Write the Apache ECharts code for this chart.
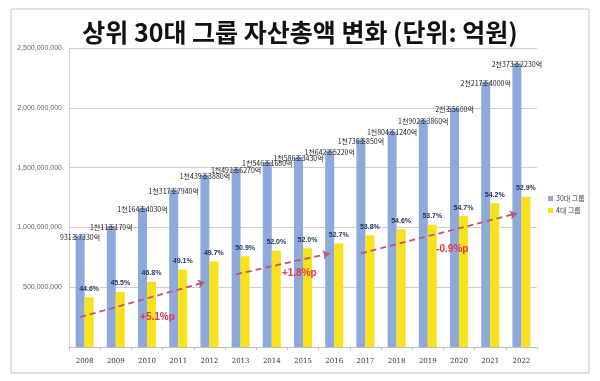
<!DOCTYPE html>
<html>
<head>
<meta charset="utf-8">
<script src="https://cdn.jsdelivr.net/npm/echarts@6/dist/echarts.min.js"></script>
<style>
html,body{margin:0;padding:0;background:#fff;}
#c{width:600px;height:381px;}
</style>
</head>
<body>
<div id="c"></div>
<script>
const years = ['2008','2009','2010','2011','2012','2013','2014','2015','2016','2017','2018','2019','2020','2021','2022'];
// 30대 그룹 자산총액 (백만원 단위 축)
const group30 = [931733000,1011017000,1164403000,1317794000,1439388000,1491627000,1546168000,1586343000,1642522000,1736085000,1804124000,1902386000,2000560000,2217400000,2373223000];
const group30Labels = ['931조7330억','1천11조170억','1천164조4030억','1천317조7940억','1천439조3880억','1천491조6270억','1천546조1680억','1천586조3430억','1천642조5220억','1천736조850억','1천804조1240억','1천902조3860억','2천조5600억','2천217조4000억','2천373조2230억'];
// 4대 그룹 자산총액 (읽은 값)
const group4 = [415500000,460000000,545000000,647000000,715400000,759200000,804000000,824900000,865600000,934000000,985000000,1021600000,1094300000,1201800000,1255400000];
const shareLabels = ['44.6%','45.5%','46.8%','49.1%','49.7%','50.9%','52.0%','52.0%','52.7%','53.8%','54.6%','53.7%','54.7%','54.2%','52.9%'];
const yTicks = [0,500000000,1000000000,1500000000,2000000000,2500000000];
const seriesNames = ['30대 그룹','4대 그룹'];
const trendArrows = [
  [['2008',250000000],['2012',542000000]],
  [['2013',608000000],['2016',783000000]],
  [['2017',783000000],['2022',1117000000]]
];
const trendTexts = [
  {text:'+5.1%p', year:'2010', value:250000000, dx:6},
  {text:'+1.8%p', year:'2014', value:617000000, dx:23},
  {text:'-0.9%p', year:'2019', value:817000000, dx:20}
];

const KR = '"Noto Sans CJK KR", "Noto Sans", sans-serif';
const chart = echarts.init(document.getElementById('c'), null, {renderer:'canvas'});
const fmt = v => v === 0 ? '' : v.toLocaleString('en-US');

chart.setOption({
  animation:false,
  backgroundColor:'#fff',
  title:{
    text:'상위 30대 그룹 자산총액 변화 (단위: 억원)',
    left:'center', top:15,
    textStyle:{fontFamily:KR, fontSize:25, fontWeight:'bold', color:'#111'}
  },
  graphic:[{
    type:'rect', shape:{x:11,y:9,width:578,height:364,r:2},
    style:{fill:'none', stroke:'#d6d6d6', lineWidth:1.5}, z:-1
  }],
  legend:{
    orient:'vertical', left:543, top:190, itemWidth:5, itemHeight:5, itemGap:5,
    icon:'rect',
    textStyle:{fontFamily:KR, fontSize:7, color:'#444', padding:[0,0,0,-2]},
    data:seriesNames
  },
  grid:{left:69, right:63, top:48, bottom:34},
  xAxis:{
    type:'category', data:years,
    axisLine:{lineStyle:{color:'#bfbfbf'}},
    axisTick:{show:true, length:3, lineStyle:{color:'#bfbfbf'}},
    axisLabel:{fontFamily:'"DejaVu Serif", serif', fontSize:7, color:'#333', margin:11}
  },
  yAxis:{
    type:'value', min:0, max:2500000000, interval:500000000,
    axisLine:{show:true, lineStyle:{color:'#d9d9d9'}},
    axisTick:{show:false},
    splitLine:{lineStyle:{color:'#cfcfcf'}},
    axisLabel:{fontFamily:'"Liberation Sans", Arial, sans-serif', fontSize:7, color:'#666', margin:7,
      formatter:v => yTicks.includes(v) ? fmt(v) : ''}
  },
  series:[
    {
      name:seriesNames[0], type:'bar', data:group30, barWidth:9, barGap:'0%',
      itemStyle:{color:'#8eaadb'},
      label:{show:true, position:'top', distance:-5, fontFamily:KR, fontSize:7, color:'#222',
        formatter:p => group30Labels[p.dataIndex]},
      markLine:{
        silent:true, symbol:['none','arrow'], symbolSize:[7,7],
        lineStyle:{type:[6,4], color:'#b9577a', width:1.8},
        label:{show:false},
        data:trendArrows.map(a => [{coord:a[0]},{coord:a[1]}])
      }
    },
    {
      name:seriesNames[1], type:'bar', data:group4, barWidth:9,
      itemStyle:{color:'#f7e21c'},
      label:{show:true, position:'top', distance:5, fontFamily:'"Liberation Sans", sans-serif', fontSize:7, fontWeight:'bold', color:'#1f3864',
        formatter:p => shareLabels[p.dataIndex]},
      markPoint:{
        silent:true, symbol:'rect', symbolSize:1, itemStyle:{color:'rgba(0,0,0,0)'},
        data:trendTexts.map(t => ({
          coord:[t.year, t.value],
          label:{show:true, position:'inside', offset:[t.dx,0], formatter:t.text,
            fontFamily:'"Liberation Sans", sans-serif', fontSize:10, fontWeight:'bold', color:'#e8334f'}
        }))
      }
    }
  ]
});
</script>
</body>
</html>
